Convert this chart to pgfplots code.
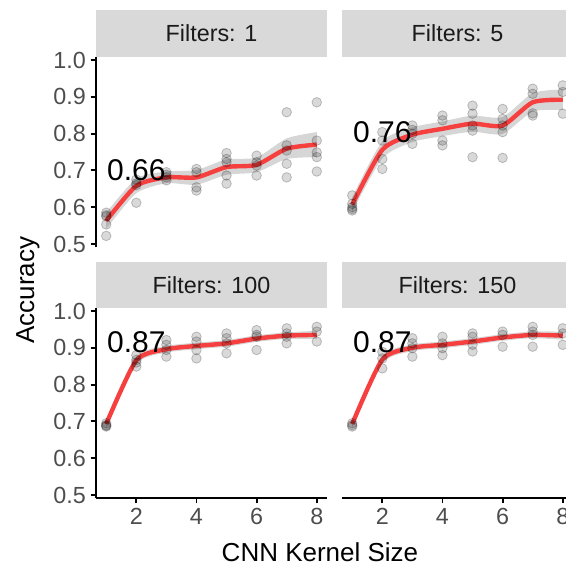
\documentclass[border=0pt]{standalone}
\usepackage{pgfplots}
\pgfplotsset{compat=1.18}
\usepgfplotslibrary{fillbetween}
\usepackage{fontspec}
\setmainfont{Liberation Sans}
\definecolor{stripgrey}{HTML}{D9D9D9}
\definecolor{ticktext}{HTML}{4D4D4D}
\definecolor{linered}{HTML}{F5403F}
\definecolor{ribbon}{HTML}{999999}
\definecolor{striptext}{HTML}{1A1A1A}

\pgfplotsset{
  facet/.style={
    scale only axis, width=173.7pt, height=142.7pt,
    xmin=0.65, xmax=8.35, ymin=0.491, ymax=1.008,
    axis x line*=bottom, axis y line*=left,
    axis line style={line width=1.5pt, black},
    xtick={2,4,6,8}, ytick={0.5,0.6,0.7,0.8,0.9,1.0},
    tick align=outside, major tick length=3.9pt,
    tick style={line width=1.4pt, black},
    ticklabel style={font=\fontsize{17.5}{17.5}\selectfont, text=ticktext},
    /pgf/number format/assume math mode=true,
    yticklabel style={/pgf/number format/fixed, /pgf/number format/fixed zerofill, /pgf/number format/precision=1},
  },
  rib/.style={draw=none, forget plot, smooth, tension=0.4},
  ribfill/.style={fill=ribbon, fill opacity=0.4, draw=none},
  fit/.style={linered, line width=3.3pt, smooth, tension=0.4},
  pts/.style={only marks, mark=*, mark size=3.6pt, mark options={fill=black, fill opacity=0.15, draw=black, draw opacity=0.22, line width=0.6pt}},
}
\tikzset{lab/.style={font=\fontsize{22.5}{22.5}\selectfont, text=black}}

\begin{document}
\begin{tikzpicture}

% ---------- Filters: 1 ----------
\begin{axis}[facet, at={(71.775pt,241.275pt)}, anchor=south west, hide x axis]
\addplot[rib, name path=u1] coordinates {(1,0.585) (2,0.678) (3,0.697) (4,0.701) (5,0.730) (6,0.735) (7,0.787) (8,0.804)};
\addplot[rib, name path=l1] coordinates {(1,0.541) (2,0.638) (3,0.665) (4,0.661) (5,0.688) (6,0.695) (7,0.731) (8,0.736)};
\addplot[ribfill] fill between[of=u1 and l1];
\addplot[fit] coordinates {(1,0.563) (2,0.658) (3,0.681) (4,0.681) (5,0.709) (6,0.715) (7,0.759) (8,0.770)};
\addplot[pts] table {
x y
1 0.585
1 0.578
1 0.575
1 0.553
1 0.522
2 0.675
2 0.665
2 0.660
2 0.612
3 0.695
3 0.688
3 0.681
3 0.673
4 0.704
4 0.695
4 0.654
4 0.645
5 0.747
5 0.731
5 0.722
5 0.686
5 0.664
6 0.740
6 0.722
6 0.713
6 0.686
7 0.858
7 0.768
7 0.754
7 0.718
7 0.681
8 0.885
8 0.781
8 0.749
8 0.736
8 0.697
};
\node[lab] at (axis cs:2,0.70) {0.66};
\end{axis}

% ---------- Filters: 5 ----------
\begin{axis}[facet, at={(256.275pt,241.275pt)}, anchor=south west, hide x axis, hide y axis]
\addplot[rib, name path=u2] coordinates {(1,0.627) (2,0.779) (3,0.817) (4,0.833) (5,0.849) (6,0.845) (7,0.910) (8,0.920)};
\addplot[rib, name path=l2] coordinates {(1,0.587) (2,0.733) (3,0.777) (4,0.793) (5,0.805) (6,0.799) (7,0.860) (8,0.864)};
\addplot[ribfill] fill between[of=u2 and l2];
\addplot[fit] coordinates {(1,0.607) (2,0.756) (3,0.797) (4,0.813) (5,0.827) (6,0.822) (7,0.885) (8,0.892)};
\addplot[pts] table {
x y
1 0.632
1 0.609
1 0.600
1 0.595
1 0.591
2 0.804
2 0.781
2 0.731
2 0.704
3 0.822
3 0.810
3 0.799
3 0.772
4 0.849
4 0.836
4 0.781
4 0.768
5 0.876
5 0.854
5 0.822
5 0.808
5 0.736
6 0.867
6 0.840
6 0.822
6 0.804
6 0.734
7 0.922
7 0.908
7 0.855
7 0.849
8 0.931
8 0.913
8 0.854
};
\node[lab] at (axis cs:2,0.805) {0.76};
\end{axis}

% ---------- Filters: 100 ----------
\begin{axis}[facet, at={(71.775pt,53.025pt)}, anchor=south west]
\addplot[rib, name path=u3] coordinates {(1,0.703) (2,0.876) (3,0.905) (4,0.914) (5,0.921) (6,0.934) (7,0.942) (8,0.946)};
\addplot[rib, name path=l3] coordinates {(1,0.683) (2,0.856) (3,0.887) (4,0.896) (5,0.903) (6,0.916) (7,0.924) (8,0.924)};
\addplot[ribfill] fill between[of=u3 and l3];
\addplot[fit] coordinates {(1,0.693) (2,0.866) (3,0.896) (4,0.905) (5,0.912) (6,0.925) (7,0.933) (8,0.935)};
\addplot[pts] table {
x y
1 0.695
1 0.690
1 0.688
1 0.686
2 0.880
2 0.867
2 0.860
2 0.849
3 0.921
3 0.908
3 0.894
3 0.876
4 0.930
4 0.917
4 0.894
4 0.871
5 0.939
5 0.926
5 0.912
5 0.885
6 0.948
6 0.935
6 0.930
6 0.894
7 0.953
7 0.939
7 0.930
7 0.912
8 0.957
8 0.944
8 0.917
};
\node[lab] at (axis cs:2,0.915) {0.87};
\end{axis}

% ---------- Filters: 150 ----------
\begin{axis}[facet, at={(256.275pt,53.025pt)}, anchor=south west, hide y axis]
\addplot[rib, name path=u4] coordinates {(1,0.703) (2,0.878) (3,0.909) (4,0.917) (5,0.926) (6,0.937) (7,0.944) (8,0.944)};
\addplot[rib, name path=l4] coordinates {(1,0.683) (2,0.858) (3,0.891) (4,0.899) (5,0.908) (6,0.919) (7,0.926) (8,0.922)};
\addplot[ribfill] fill between[of=u4 and l4];
\addplot[fit] coordinates {(1,0.693) (2,0.868) (3,0.900) (4,0.908) (5,0.917) (6,0.928) (7,0.935) (8,0.933)};
\addplot[pts] table {
x y
1 0.695
1 0.690
1 0.686
2 0.889
2 0.871
2 0.844
3 0.926
3 0.912
3 0.899
3 0.876
4 0.930
4 0.912
4 0.899
4 0.880
5 0.939
5 0.930
5 0.908
5 0.890
6 0.944
6 0.935
6 0.903
7 0.957
7 0.944
7 0.935
7 0.903
8 0.953
8 0.939
8 0.908
};
\node[lab] at (axis cs:2,0.915) {0.87};
\end{axis}

% ---------- strips and titles (pixel units from top-left) ----------
\begin{scope}[x=0.75pt, y=-0.75pt, shift={(0pt,426.75pt)}]
\fill[stripgrey] (95.7,10) rectangle (327.3,56.7);
\fill[stripgrey] (341.7,10) rectangle (573.3,56.7);
\fill[stripgrey] (95.7,261.7) rectangle (327.3,308.3);
\fill[stripgrey] (341.7,261.7) rectangle (573.3,308.3);
\node[font=\fontsize{17.5}{17.5}\selectfont, text=striptext] at (211.5,33.3) {Filters: 1};
\node[font=\fontsize{17.5}{17.5}\selectfont, text=striptext] at (457.5,33.3) {Filters: 5};
\node[font=\fontsize{17.5}{17.5}\selectfont, text=striptext] at (211.5,285) {Filters: 100};
\node[font=\fontsize{17.5}{17.5}\selectfont, text=striptext] at (457.5,285) {Filters: 150};
\node[font=\fontsize{19.5}{19.5}\selectfont, rotate=90] at (28,290) {Accuracy};
\node[font=\fontsize{19.5}{19.5}\selectfont] at (320,552) {CNN Kernel Size};
\end{scope}
\pgfresetboundingbox
\path[use as bounding box] (0,0) rectangle (424.5pt,426.75pt);
\end{tikzpicture}
\end{document}
